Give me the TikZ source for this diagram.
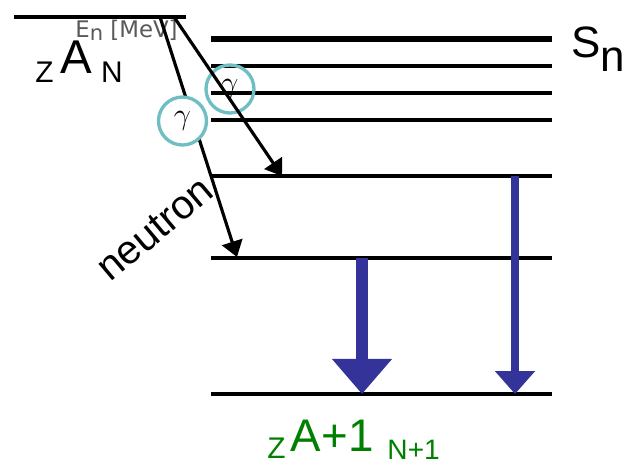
\documentclass[tikz,border=0pt]{standalone}
\usepackage{fontspec}
\setmainfont{Liberation Sans}
\newfontfamily\unitfont{DejaVu Sans}
\usetikzlibrary{arrows.meta}
\definecolor{ringteal}{RGB}{111,190,196}
\definecolor{decayblue}{RGB}{51,51,153}
\definecolor{finalgreen}{RGB}{0,128,0}
\tikzset{
  level/.style={line width=2.3pt, draw=black},
  sepline/.style={line width=3.4pt, draw=black},
  emission/.style={-{Triangle[length=9pt,width=12pt]}, line width=1.8pt, draw=black},
  photon/.style={circle, draw=ringteal, line width=1.9pt, minimum size=0.96cm, inner sep=0pt, font=\fontsize{19}{19}\selectfont},
  strongline/.style={-{Triangle[length=20pt,width=33pt]}, line width=6.8pt, draw=decayblue, fill=decayblue},
  weakline/.style={-{Triangle[length=13pt,width=22pt]}, line width=4.4pt, draw=decayblue, fill=decayblue},
  label/.style={anchor=base west, inner sep=0pt}
}

\begin{document}
\begin{tikzpicture}[x=0.02cm, y=-0.02cm]
  \useasboundingbox (0,0) rectangle (625,461);
  % capturing level
  \coordinate (capL) at (14,17);
  \coordinate (capR) at (186,17);
  \draw[level] (capL) -- (capR);
  \node[label, font=\unitfont\fontsize{13}{13}\selectfont, text=black!65] (energy) at (75,37) {E\raisebox{-2pt}{\fontsize{12}{12}\selectfont n} [MeV]};
  \node[label, font=\fontsize{17}{17}\selectfont] (parent) at (35,82) {Z\hspace{4pt}\raisebox{5pt}{\fontsize{27}{27}\selectfont A}\hspace{5pt}N};

  % levels of the compound nucleus
  \coordinate (snL) at (211,39);  \coordinate (snR) at (552,39);
  \coordinate (aL) at (211,66);   \coordinate (aR) at (552,66);
  \coordinate (bL) at (211,93);   \coordinate (bR) at (552,93);
  \coordinate (cL) at (211,120);  \coordinate (cR) at (552,120);
  \coordinate (dL) at (211,176);  \coordinate (dR) at (552,176);
  \coordinate (eL) at (211,258);  \coordinate (eR) at (552,258);
  \coordinate (gsL) at (211,394); \coordinate (gsR) at (552,394);
  \draw[sepline] (snL) -- (snR);
  \draw[level] (aL) -- (aR);
  \draw[level] (bL) -- (bR);
  \draw[level] (cL) -- (cR);
  \draw[level] (dL) -- (dR);
  \draw[level] (eL) -- (eR);
  \draw[level] (gsL) -- (gsR);
  \node[label, font=\fontsize{25}{25}\selectfont] (sn) at (571,57) {S\raisebox{-8.5pt}{n}};

  % incoming transitions
  \coordinate (from1) at (160,17);
  \coordinate (to1) at (237,257);
  \coordinate (from2) at (174,17);
  \coordinate (to2) at (282,176);
  \draw[emission] (from1) -- (to1);
  \node[photon, fill=white] (gam1) at (182.5,121) {$\gamma$};
  \node[photon] (gam2) at (230,89) {$\gamma$};
  \draw[emission] (from2) -- (to2);
  \node[font=\fontsize{23}{23}\selectfont, rotate=40, inner sep=0pt] (neutron) at (155,229) {neutron};

  % decay to the ground state
  \coordinate (bigTop) at (362,258);
  \coordinate (bigTip) at (362,394);
  \coordinate (smallTop) at (515,176);
  \coordinate (smallTip) at (515,394);
  \draw[strongline] (bigTop) -- (bigTip);
  \draw[weakline] (smallTop) -- (smallTip);
  \node[label, text=finalgreen, font=\fontsize{17}{17}\selectfont] (daughter) at (267,458) {Z\hspace{3pt}\raisebox{3.5pt}{\fontsize{26}{26}\selectfont A+1}\hspace{8pt}\raisebox{-1pt}{\fontsize{16}{16}\selectfont N+1}};
\end{tikzpicture}
\end{document}
